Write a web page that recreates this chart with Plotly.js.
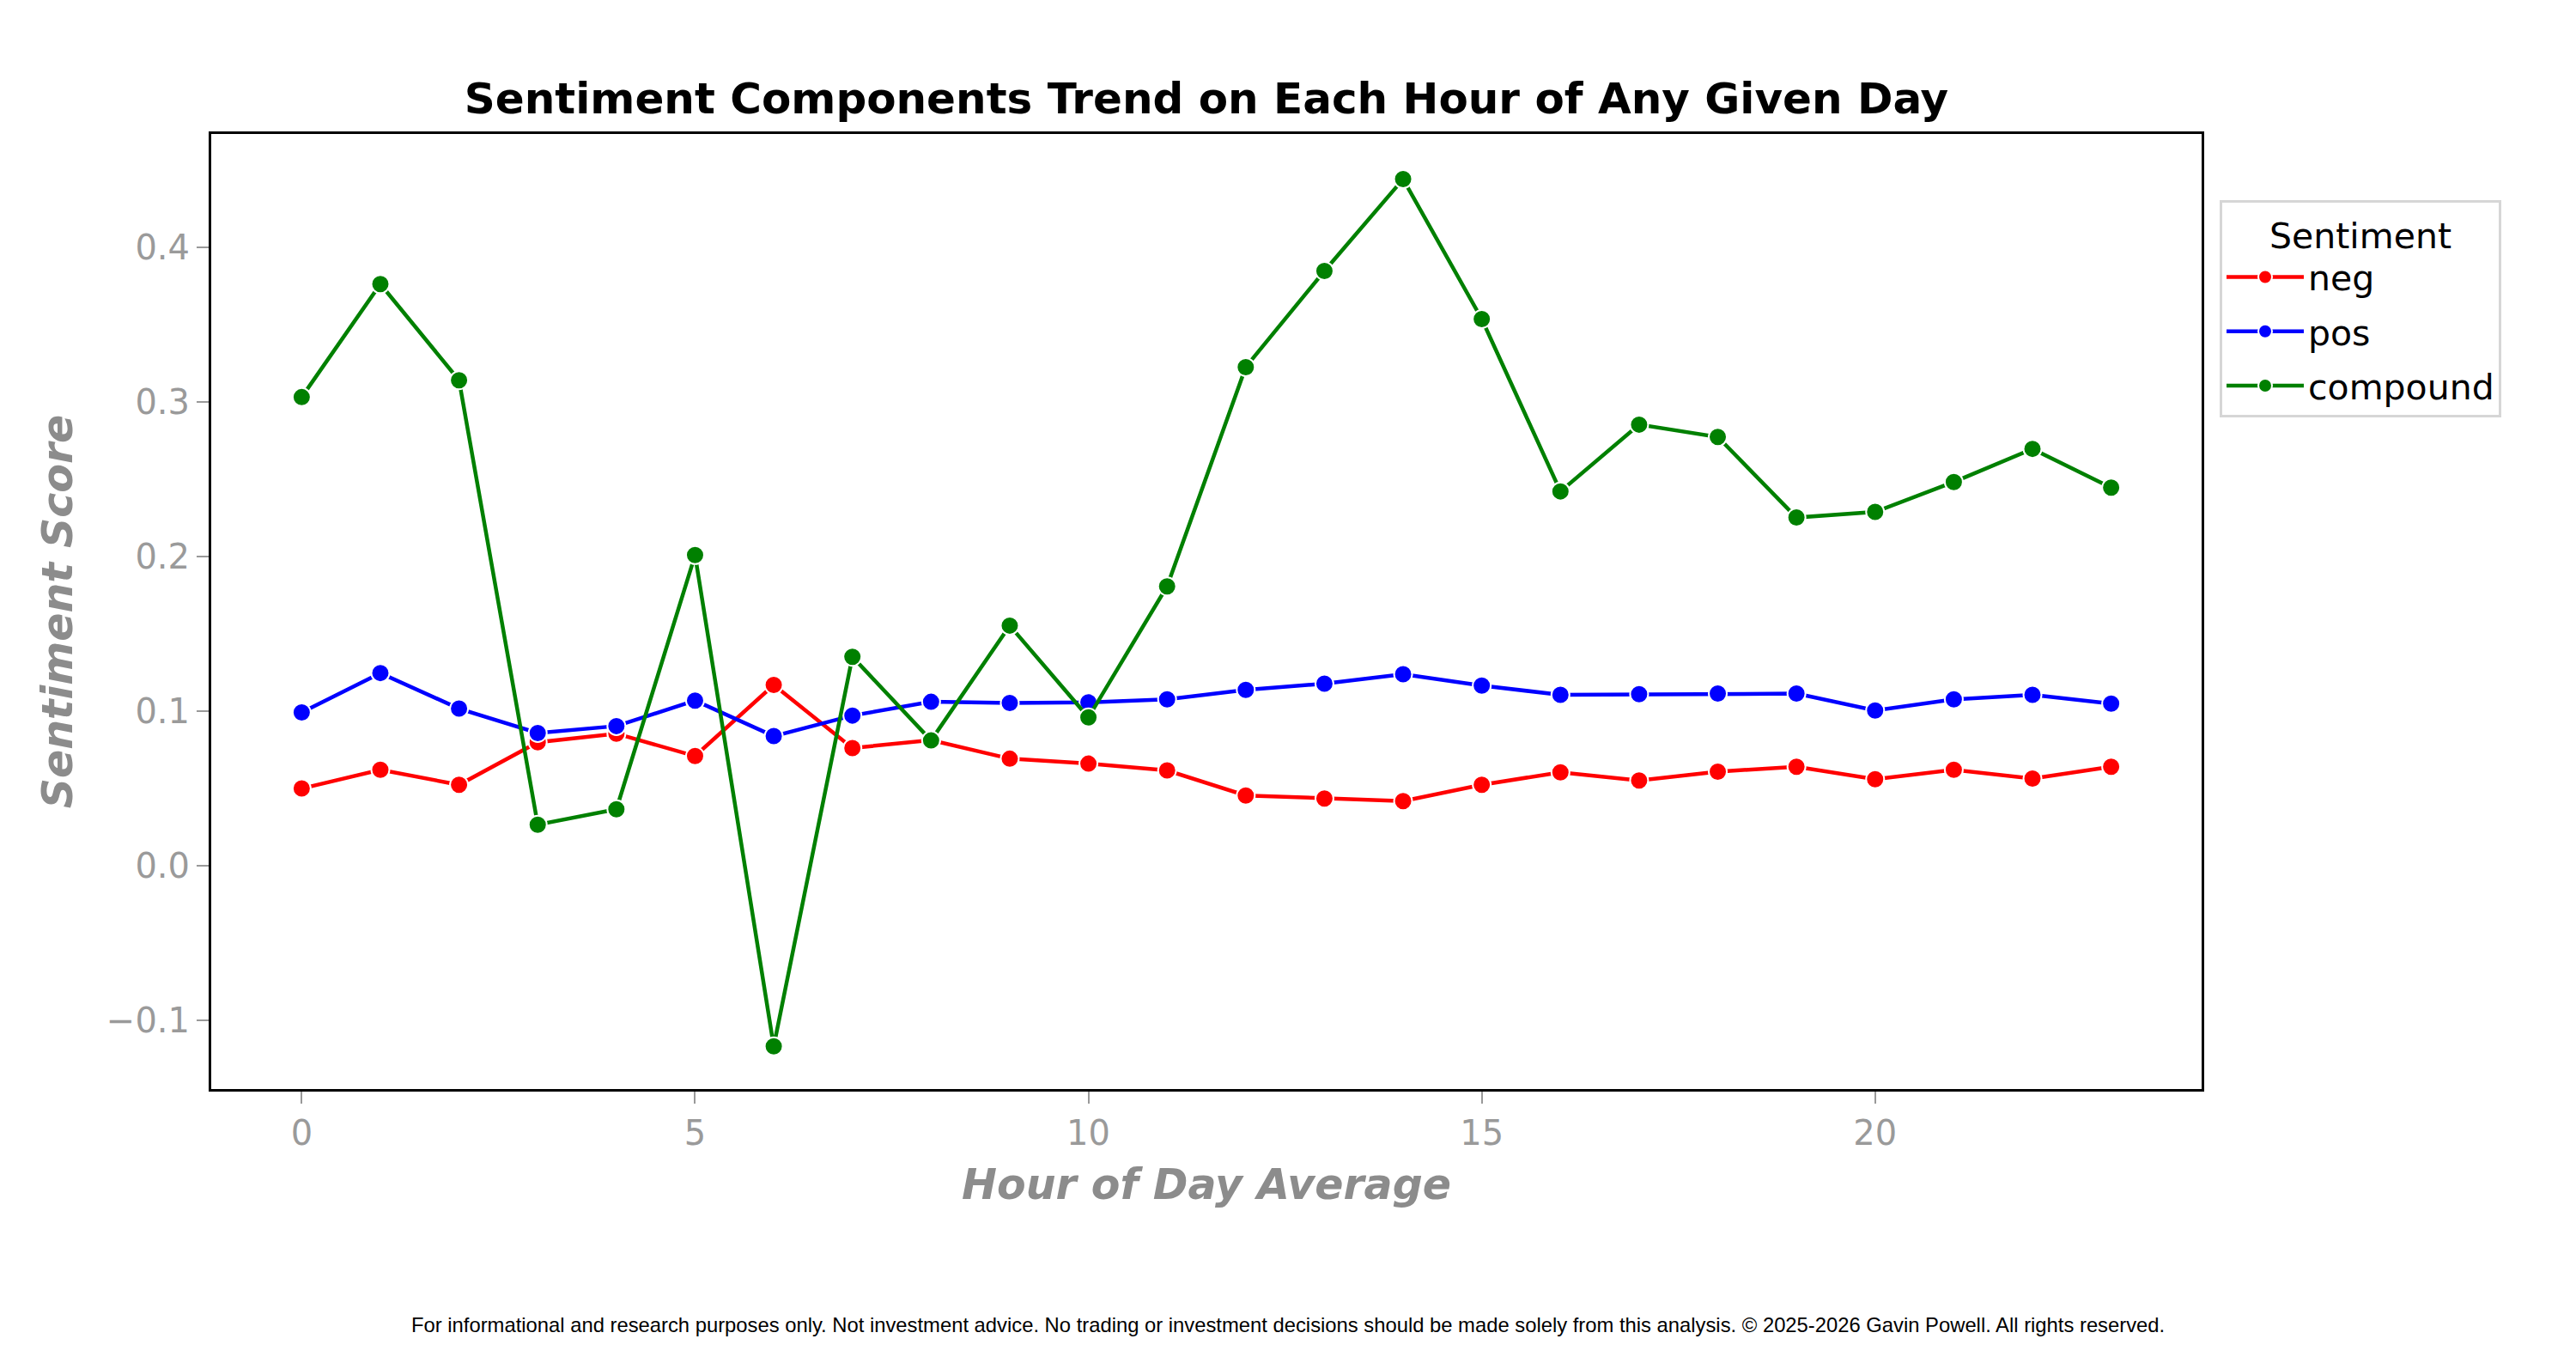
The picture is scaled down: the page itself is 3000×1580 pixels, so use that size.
<!DOCTYPE html>
<html>
<head>
<meta charset="utf-8">
<script src="https://cdn.plot.ly/plotly-3.0.1.min.js"></script>
<style>html,body{margin:0;padding:0;background:#fff;}#chart{width:3000px;height:1580px;}</style>
</head>
<body>
<div id="chart"></div>
<script>
const hours = [0,1,2,3,4,5,6,7,8,9,10,11,12,13,14,15,16,17,18,19,20,21,22,23];
const negValues = [0.0497,0.0618,0.0521,0.0796,0.0852,0.0707,0.1167,0.0759,0.0810,0.0690,0.0658,0.0614,
                   0.0452,0.0432,0.0416,0.0521,0.0602,0.0549,0.0606,0.0638,0.0557,0.0618,0.0561,0.0638];
const posValues = [0.0989,0.1244,0.1014,0.0856,0.0901,0.1066,0.0836,0.0969,0.1058,0.1050,0.1054,0.1074,
                   0.1135,0.1175,0.1236,0.1163,0.1103,0.1107,0.1111,0.1111,0.1002,0.1074,0.1103,0.1046];
const compoundValues = [0.3029,0.3760,0.3138,0.0263,0.0363,0.2007,-0.1171,0.1349,0.0808,0.1551,0.0957,0.1805,
                        0.3223,0.3845,0.4439,0.3534,0.2419,0.2851,0.2771,0.2250,0.2286,0.2480,0.2694,0.2443];
const seriesNames = ['neg','pos','compound'];
const seriesColors = ['red','blue','green'];
const xTicks = [0,5,10,15,20];
const yTicks = [-0.1,0.0,0.1,0.2,0.3,0.4];

const allSeries = [negValues,posValues,compoundValues];
const traces = allSeries.map((vals,i)=>({
  x: hours, y: vals, name: seriesNames[i], legendgroup: seriesNames[i],
  type:'scatter', mode:'lines+markers',
  line:{color:seriesColors[i], width:4.5},
  marker:{color:seriesColors[i], size:21, line:{color:'white', width:2}}
}));

const tickFont = {family:'DejaVu Sans', size:40, color:'#9a9a9a'};
const titleFont = {family:'DejaVu Sans', size:49, color:'#8c8c8c', weight:'bold', style:'italic'};

const layout = {
  width:3000, height:1580,
  paper_bgcolor:'white', plot_bgcolor:'white',
  margin:{l:246, r:436, t:156, b:312, pad:0},
  title:{text:'Sentiment Components Trend on Each Hour of Any Given Day',
         font:{family:'DejaVu Sans', size:50, color:'black', weight:'bold'},
         x:1405/3000, xanchor:'center', xref:'container', y:1-114/1580, yanchor:'middle', yref:'container'},
  xaxis:{range:[-1.15,24.15], tickvals:xTicks, ticktext:xTicks.map(String),
         showgrid:false, zeroline:false, showline:true, mirror:true, linecolor:'black', linewidth:3,
         ticks:'outside', ticklen:14, tickwidth:2, tickcolor:'#999999', tickfont:tickFont,
         title:{text:'Hour of Day Average', font:titleFont, standoff:21}},
  yaxis:{range:[-0.1447,0.4731], tickvals:yTicks, ticktext:yTicks.map(v=>(v<0?'\u2212':'')+Math.abs(v).toFixed(1)),
         showgrid:false, zeroline:false, showline:true, mirror:true, linecolor:'black', linewidth:3,
         ticks:'outside', ticklen:14, tickwidth:2, tickcolor:'#999999', tickfont:tickFont,
         title:{text:'Sentiment Score', font:titleFont, standoff:24}},
  legend:{x:(2585-246)/2318, y:(1268-233)/1112, xanchor:'left', yanchor:'top',
          bgcolor:'white', bordercolor:'#d6d6d6', borderwidth:3,
          itemwidth:90, tracegroupgap:7, traceorder:'grouped',
          font:{family:'DejaVu Sans', size:41, color:'black'},
          title:{text:'Sentiment', side:'top center', font:{family:'DejaVu Sans', size:41, color:'black'}}},
  annotations:[{text:'For informational and research purposes only. Not investment advice. No trading or investment decisions should be made solely from this analysis. \u00a9 2025-2026 Gavin Powell. All rights reserved.',
    xref:'paper', yref:'paper', x:(1500-246)/2318, y:(1268-1542)/1112, xanchor:'center', yanchor:'middle',
    showarrow:false, font:{family:'Liberation Sans', size:23.8, color:'black'}}]
};

Plotly.newPlot('chart', traces, layout, {displayModeBar:false, staticPlot:true});
</script>
</body>
</html>
